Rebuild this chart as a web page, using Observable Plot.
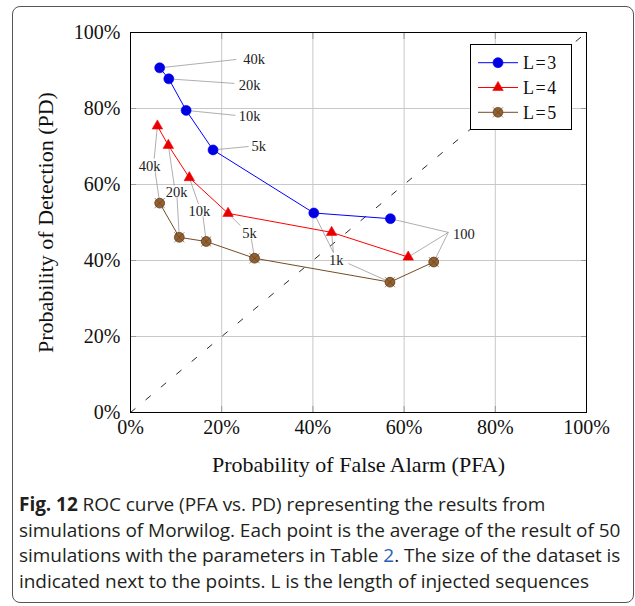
<!DOCTYPE html>
<html><head><meta charset="utf-8">
<script src="https://cdn.jsdelivr.net/npm/d3@7"></script>
<script src="https://cdn.jsdelivr.net/npm/@observablehq/plot@0.6"></script>
<style>
body{margin:0;background:#fff;}
#wrap{position:relative;width:635px;height:606px;overflow:hidden;background:#fff;}
#border{position:absolute;left:12px;top:6px;width:622px;height:597px;border:1px solid #555;border-radius:8px;box-sizing:border-box;}
#chart{position:absolute;left:0;top:0;}
#legend{position:absolute;left:470px;top:44px;width:102px;height:86px;border:1px solid #000;background:#fff;box-sizing:border-box;}
#caption{position:absolute;left:19px;top:492px;font-family:"Open Sans";font-size:19px;letter-spacing:-0.05px;line-height:25.5px;white-space:nowrap;color:#231f20;}
#caption b{font-weight:700;}
</style></head>
<body>
<div id="wrap">
  <div id="border"></div>
  <div id="chart"></div>
  <div id="legend"></div>
  <div id="caption"><b>Fig. 12</b> ROC curve (PFA vs. PD) representing the results from<br>simulations of Morwilog. Each point is the average of the result of 50<br>simulations with the parameters in Table <span style="color:#2a5db8">2</span>. The size of the dataset is<br>indicated next to the points. L is the length of injected sequences</div>
</div>
<script>
// ---- data ----
const sizes = ["40k", "20k", "10k", "5k", "1k", "100"];
const seriesNames = ["L=3", "L=4", "L=5"];
const pfaL3 = [6.4, 8.4, 12.2, 18.1, 40.2, 57.0];
const pdL3  = [90.7, 87.8, 79.5, 69.1, 52.5, 51.0];
const pfaL4 = [5.9, 8.3, 12.9, 21.4, 44.1, 60.9];
const pdL4  = [75.4, 70.3, 61.8, 52.4, 47.4, 40.9];
const pfaL5 = [6.4, 10.7, 16.6, 27.2, 56.9, 66.5];
const pdL5  = [55.1, 46.1, 45.0, 40.6, 34.3, 39.6];
// leader-line ends (data units) for each point
const leadXL3 = [23.2, 22.8, 23.0, 25.9, 44.5, 69.7];
const leadYL3 = [92.9, 86.6, 78.2, 70.0, 42.1, 47.4];
const leadXL4 = [5.2, 9.6, 14.9, 24.1, 44.5, 69.7];
const leadYL4 = [66.8, 59.7, 54.9, 49.2, 42.1, 47.4];
const leadXL5 = [5.4, 10.2, 15.9, 26.5, 47.8, 69.7];
const leadYL5 = [63.5, 56.7, 51.6, 45.7, 39.2, 47.4];
// dataset-size labels (text centres, data units)
const labelText = ["40k", "20k", "10k", "5k", "40k", "20k", "10k", "5k", "1k", "100"];
const labelX = [27.1, 26.1, 26.1, 28.1, 4.2, 10.1, 15.1, 26.1, 45.1, 73.1];
const labelY = [92.9, 86.1, 78.0, 70.0, 64.9, 58.0, 53.0, 47.2, 40.0, 47.0];
const axisTicks = [0, 20, 40, 60, 80, 100];
const chanceLine = [0, 100];

// ---- styles ----
const lineColors = ["#0000ff", "#ff0000", "#734d26"];
const markFills = ["#0000e0", "#e60000", "#946232"];
const markStrokes = ["#0000ff", "#ff0000", "#5e3c1c"];

const pfa = [pfaL3, pfaL4, pfaL5], pd = [pdL3, pdL4, pdL5];
const lx = [leadXL3, leadXL4, leadXL5], ly = [leadYL3, leadYL4, leadYL5];
const rows = [];
seriesNames.forEach((s, i) => sizes.forEach((z, j) => rows.push({
  series: s, si: i, size: z, pfa: pfa[i][j], pd: pd[i][j], lx: lx[i][j], ly: ly[i][j]
})));
const labels = labelText.map((t, i) => ({text: t, x: labelX[i], y: labelY[i]}));
const diag = chanceLine.map(v => ({x: v, y: v}));

const serif = "Liberation Serif";
const marks = [
  Plot.gridX(axisTicks.slice(1, -1), {stroke: "#c8c8c8", strokeOpacity: 1}),
  Plot.gridY(axisTicks.slice(1, -1), {stroke: "#c8c8c8", strokeOpacity: 1}),
  Plot.axisX(axisTicks.slice(1, -1), {anchor: "bottom", tickSize: -6, fill: "none", stroke: "#9a9a9a"}),
  Plot.axisX(axisTicks.slice(1, -1), {anchor: "top", tickSize: -6, fill: "none", stroke: "#9a9a9a"}),
  Plot.axisY(axisTicks.slice(1, -1), {anchor: "left", tickSize: -6, fill: "none", stroke: "#9a9a9a"}),
  Plot.axisY(axisTicks.slice(1, -1), {anchor: "right", tickSize: -6, fill: "none", stroke: "#9a9a9a"}),
  Plot.axisX(axisTicks, {anchor: "bottom", tickSize: 0, tickPadding: 7, tickFormat: d => d + "%", fontSize: 20, label: null, fill: "#111"}),
  Plot.axisY(axisTicks, {anchor: "left", tickSize: 0, tickPadding: 10, tickFormat: d => d + "%", fontSize: 20, label: null, fill: "#111"}),
  Plot.axisX([], {anchor: "bottom", tickSize: 0, fontSize: 22, label: "Probability of False Alarm (PFA)", labelAnchor: "center", labelOffset: 59, labelArrow: "none", fill: "#111"}),
  Plot.axisY([], {anchor: "left", tickSize: 0, fontSize: 22, label: "Probability of Detection (PD)", labelAnchor: "center", labelOffset: 93, labelArrow: "none", fill: "#111"}),
  Plot.line(diag, {x: "x", y: "y", stroke: "#111", strokeWidth: 0.9, strokeDasharray: "6,14"}),
  Plot.link(rows, {x1: "pfa", y1: "pd", x2: "lx", y2: "ly", stroke: "#8c8c8c", strokeWidth: 0.7}),
];
seriesNames.forEach((s, i) => {
  const data = rows.filter(d => d.si === i);
  marks.push(Plot.line(data, {x: "pfa", y: "pd", stroke: lineColors[i], strokeWidth: 1}));
});
marks.push(Plot.dot(rows.filter(d => d.si === 0), {x: "pfa", y: "pd", r: 5, symbol: "circle", fill: markFills[0], stroke: markStrokes[0], strokeWidth: 0.6}));
marks.push(Plot.dot(rows.filter(d => d.si === 1), {x: "pfa", y: "pd", r: 3.9, symbol: "triangle", fill: markFills[1], stroke: markStrokes[1], strokeWidth: 0.6}));
marks.push(Plot.dot(rows.filter(d => d.si === 2), {x: "pfa", y: "pd", r: 4.9, symbol: "circle", fill: markFills[2], stroke: markStrokes[2], strokeWidth: 0.8}));
marks.push(Plot.dot(rows.filter(d => d.si === 2), {x: "pfa", y: "pd", r: 4.7, symbol: "times", stroke: markStrokes[2], strokeWidth: 0.6}));
marks.push(Plot.text(labels, {x: "x", y: "y", text: "text", fontSize: 14.5, fill: "#222", fontFamily: serif, style: "letter-spacing:0.4px"}));
marks.push(Plot.frame({stroke: "#000", strokeWidth: 1}));

const chart = Plot.plot({
  width: 635, height: 482,
  marginLeft: 130, marginRight: 49, marginTop: 32, marginBottom: 70,
  x: {domain: [0, 100]}, y: {domain: [0, 100]},
  style: {fontFamily: serif, background: "transparent", color: "#111"},
  marks
});
document.getElementById("chart").appendChild(chart);

// ---- legend (inside the plot, top right) ----
const lg = d3.select("#legend").append("svg").attr("width", 100).attr("height", 84);
seriesNames.forEach((s, i) => {
  const g = lg.append("g").attr("transform", `translate(0,${17.7 + i * 24.8})`);
  g.append("line").attr("x1", 7).attr("x2", 47).attr("stroke", lineColors[i]).attr("stroke-width", 1);
  if (i === 1) {
    g.append("path").attr("d", d3.symbol(d3.symbolTriangle, Math.PI * 3.9 * 3.9)()).attr("transform", "translate(27,0)")
      .attr("fill", markFills[i]).attr("stroke", markStrokes[i]).attr("stroke-width", 0.6);
  } else {
    g.append("circle").attr("cx", 27).attr("r", i === 0 ? 5 : 4.9).attr("fill", markFills[i]).attr("stroke", markStrokes[i]).attr("stroke-width", 0.7);
    if (i === 2) g.append("path").attr("d", d3.symbol(d3.symbolTimes, Math.PI * 4.7 * 4.7)()).attr("transform", "translate(27,0)")
      .attr("fill", "none").attr("stroke", markStrokes[i]).attr("stroke-width", 0.6);
  }
  g.append("text").attr("x", 52).attr("y", 0).attr("dy", "0.35em").attr("font-family", serif)
    .attr("font-size", 18).attr("letter-spacing", "1.5px").attr("fill", "#111").text(s);
});
</script>
</body></html>
